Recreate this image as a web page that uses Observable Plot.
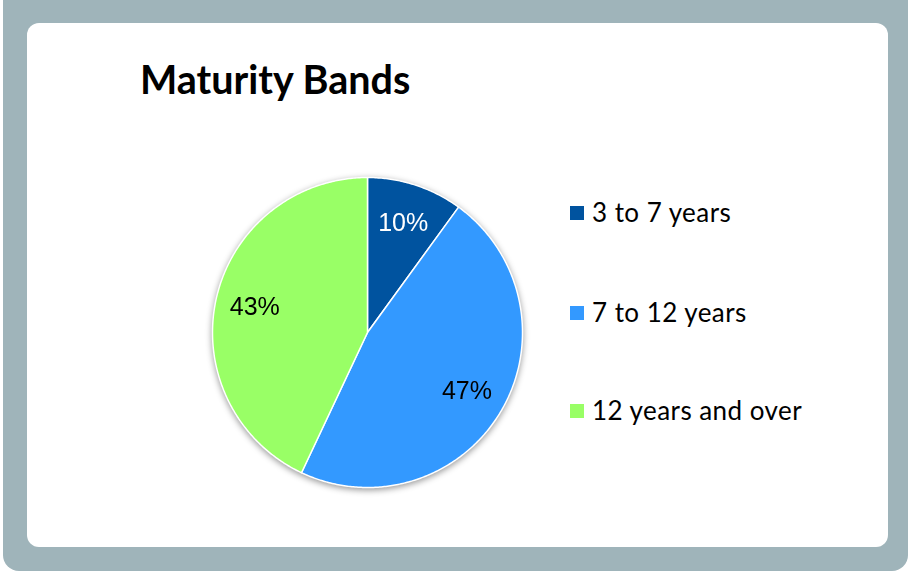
<!DOCTYPE html>
<html>
<head>
<meta charset="utf-8">
<script src="https://cdn.jsdelivr.net/npm/d3@7"></script>
<script src="https://cdn.jsdelivr.net/npm/@observablehq/plot@0.6"></script>
<style>
  html, body { margin: 0; padding: 0; background: #ffffff; }
  #frame { position: absolute; left: 3px; top: -20px; width: 905px; height: 591px; background: #9fb4ba; border-radius: 16px; }
  #panel { position: absolute; left: 27px; top: 23px; width: 861px; height: 524px; background: #ffffff; border-radius: 12px; }
  #title { position: absolute; left: 140px; top: 59px; font-family: Lato, sans-serif; font-weight: bold; font-size: 39.5px; line-height: 39.5px; color: #000; white-space: nowrap; }
  #chart { position: absolute; left: 197px; top: 162px; }
  #chart svg { filter: drop-shadow(0px 2px 3px rgba(0,0,0,0.4)); overflow: visible; }
  .leg { position: absolute; left: 570px; font-family: Lato, sans-serif; font-size: 26px; line-height: 26px; letter-spacing: 0.45px; color: #000; white-space: nowrap; }
  .sw { position: absolute; left: 0; width: 14px; height: 14px; }
  .lt { position: absolute; left: 22px; top: 0; }
</style>
</head>
<body>
<div id="frame"></div>
<div id="panel"></div>
<div id="title">Maturity Bands</div>
<div id="chart"></div>
<div id="legend"></div>
<script>
const categories = ["3 to 7 years", "7 to 12 years", "12 years and over"];
const values = [10, 47, 43];
const colors = ["#00539f", "#3399ff", "#99ff66"];
const labelColors = ["#ffffff", "#000000", "#000000"];

const rows = categories.map((c, i) => ({cat: c, value: values[i], i}));
const arcs = d3.pie().value(d => d.value).sort(null)(rows);

// polygon outline points for each slice (angles clockwise from 12 o'clock)
const pts = [];
arcs.forEach(a => {
  const c = a.data.cat;
  pts.push({cat: c, x: 0, y: 0});
  const n = Math.max(2, Math.ceil((a.endAngle - a.startAngle) / 0.01));
  for (let k = 0; k <= n; k++) {
    const t = a.startAngle + (a.endAngle - a.startAngle) * k / n;
    pts.push({cat: c, x: Math.sin(t), y: Math.cos(t)});
  }
});

const lr = 0.745;
const labels = arcs.map(a => {
  const m = (a.startAngle + a.endAngle) / 2;
  return {cat: a.data.cat, i: a.data.i, text: a.data.value + "%", x: lr * Math.sin(m), y: lr * Math.cos(m)};
});

const S = 340, R = 155, ext = (S / 2) / R;
const plot = Plot.plot({
  width: S, height: S,
  margin: 0,
  x: {domain: [-ext, ext], axis: null},
  y: {domain: [-ext, ext], axis: null},
  color: {domain: categories, range: colors},
  marks: [
    Plot.line(pts, {x: "x", y: "y", z: "cat", fill: "cat", stroke: "white", strokeWidth: 1.5, strokeLinejoin: "round", curve: "linear-closed"}),
    Plot.text(labels, {filter: d => labelColors[d.i] === "#ffffff", x: "x", y: "y", text: "text", fill: "#ffffff", fontSize: 25, fontFamily: "Liberation Sans, Arial, sans-serif"}),
    Plot.text(labels, {filter: d => labelColors[d.i] !== "#ffffff", x: "x", y: "y", text: "text", fill: "#000000", fontSize: 25, fontFamily: "Liberation Sans, Arial, sans-serif"})
  ]
});
document.getElementById("chart").appendChild(plot);

const legTops = [199, 299, 397];
const leg = document.getElementById("legend");
categories.forEach((c, i) => {
  const d = document.createElement("div");
  d.className = "leg";
  d.style.top = legTops[i] + "px";
  d.innerHTML = `<div class="sw" style="top:7px;background:${colors[i]}"></div><div class="lt"></div>`;
  d.querySelector(".lt").textContent = c;
  leg.appendChild(d);
});
</script>
</body>
</html>
